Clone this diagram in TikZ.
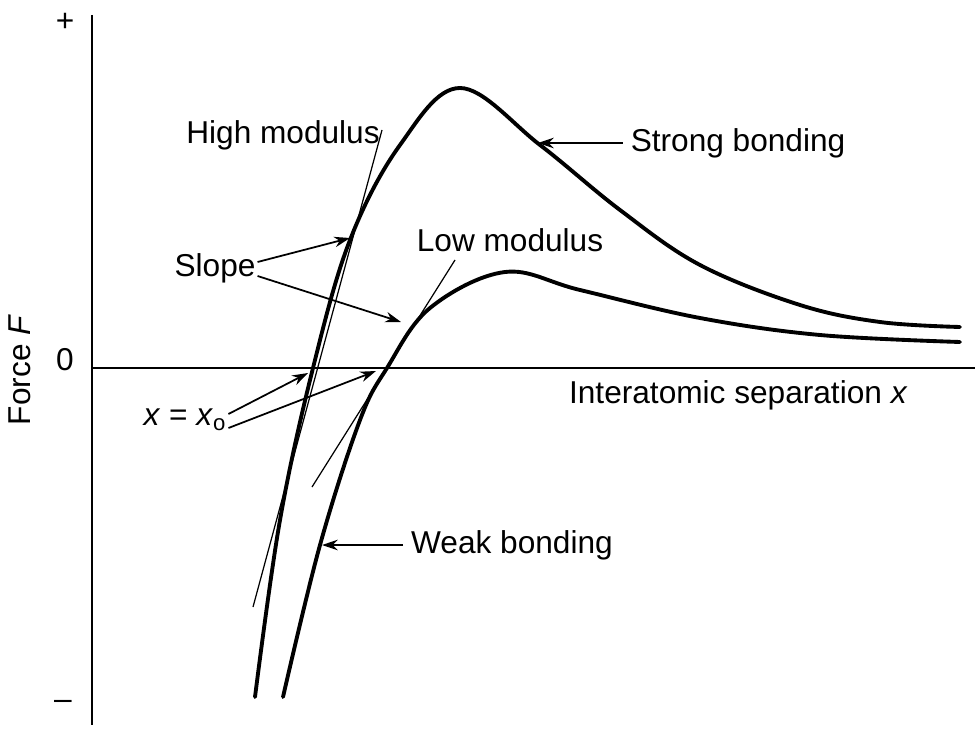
\documentclass[tikz,border=0pt]{standalone}
\usepackage{fontspec}
\setmainfont{Liberation Sans}
\usetikzlibrary{arrows.meta}
\tikzset{
  curve/.style={line width=2.2pt, line cap=round},
  tangent/.style={line width=0.7pt},
  lbl/.style={font=\fontsize{18}{20}\selectfont, inner sep=1pt},
  pointer/.style={line width=1pt, -{Stealth[length=9pt, width=6pt]}},
}
\begin{document}
\begin{tikzpicture}[x=0.02cm, y=-0.02cm]
    \useasboundingbox (0,0) rectangle (979,729);
    % axes
    \draw[line width=1pt] (92,15) -- (92,725);
    \draw[line width=1pt] (92,368) -- (975,368);
    \node[lbl] (plus) at (65,22) {+};
    \node[lbl] (zero) at (65,360) {0};
    \node[lbl] (minus) at (63,705) {--};
    \node[lbl, rotate=90] (force) at (20,370) {Force \textit{F}};
    \node[lbl, anchor=west] (sep) at (567,395) {Interatomic separation \textit{x}};
    % curves
    \draw[curve] plot[smooth, tension=0.6] coordinates
        {(255,697) (280,520) (313,368) (350,240) (400,145) (460,88) (540,145) (620,210) (700,265) (800,305) (880,322) (960,327)};
    \draw[curve] plot[smooth, tension=0.6] coordinates
        {(283,697) (320,545) (360,420) (387,368) (430,308) (505,272) (580,290) (700,318) (820,335) (960,342)};
    % tangents
    \coordinate (hm0) at (253,607);
    \coordinate (hm1) at (382,130);
    \coordinate (lm0) at (312,487);
    \coordinate (lm1) at (455,260);
    \draw[tangent] (hm0) -- (hm1);
    \draw[tangent] (lm0) -- (lm1);
    % labels
    \node[lbl] (high) at (283,135) {High modulus};
    \node[lbl] (low) at (510,240) {Low modulus};
    \node[lbl] (slope) at (215,268) {Slope};
    \node[lbl] (xo) at (185,420) {\textit{x} = \textit{x}$_\mathrm{o}$};
    \node[lbl] (strong) at (738,143) {Strong bonding};
    \node[lbl] (weak) at (512,545) {Weak bonding};
    % pointers
    \coordinate (s1) at (350,238);
    \coordinate (s2) at (401,322);
    \coordinate (x1) at (308,373);
    \coordinate (x2) at (376,371);
    \coordinate (sb) at (538,143);
    \coordinate (wb) at (322,545);
    \draw[pointer] (slope.east) ++(0,-6) -- (s1);
    \draw[pointer] (slope.east) ++(0,8) -- (s2);
    \draw[pointer] (xo.east) ++(0,-6) -- (x1);
    \draw[pointer] (xo.east) ++(0,8) -- (x2);
    \draw[pointer] (strong.west) ++(-6,0) -- (sb);
    \draw[pointer] (weak.west) ++(-6,0) -- (wb);
\end{tikzpicture}
\end{document}
